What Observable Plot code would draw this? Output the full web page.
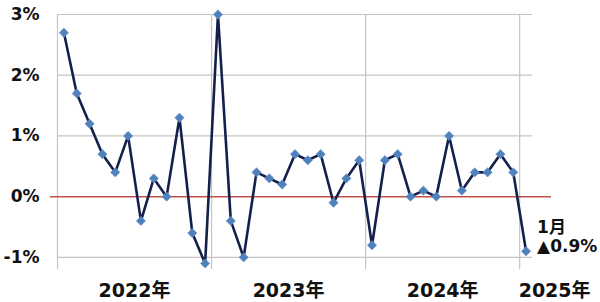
<!DOCTYPE html>
<html>
<head>
<meta charset="utf-8">
<script src="https://cdn.jsdelivr.net/npm/d3@7"></script>
<script src="https://cdn.jsdelivr.net/npm/@observablehq/plot@0.6"></script>
<style>
  html, body { margin: 0; padding: 0; background: #fff; }
  svg { display: block; }
</style>
</head>
<body>
<div id="chart"></div>
<script>
// Monthly change (%), Jan 2022 – Jan 2025
const years = [2022,2022,2022,2022,2022,2022,2022,2022,2022,2022,2022,2022,
               2023,2023,2023,2023,2023,2023,2023,2023,2023,2023,2023,2023,
               2024,2024,2024,2024,2024,2024,2024,2024,2024,2024,2024,2024,
               2025];
const months = [1,2,3,4,5,6,7,8,9,10,11,12,
                1,2,3,4,5,6,7,8,9,10,11,12,
                1,2,3,4,5,6,7,8,9,10,11,12,
                1];
const values = [2.7, 1.7, 1.2, 0.7, 0.4, 1.0, -0.4, 0.3, 0.0, 1.3, -0.6, -1.1,
                3.0, -0.4, -1.0, 0.4, 0.3, 0.2, 0.7, 0.6, 0.7, -0.1, 0.3, 0.6,
                -0.8, 0.6, 0.7, 0.0, 0.1, 0.0, 1.0, 0.1, 0.4, 0.4, 0.7, 0.4,
                -0.9];
const yTicks = [-1, 0, 1, 2, 3];
const yearLabelSuffix = "年";
const monthSuffix = "月";

const data = values.map((v, i) => ({i: i + 1, year: years[i], month: months[i], v}));
const n = data.length;

// year groups
const yearList = Array.from(new Set(years));
const yearGroups = yearList.map(y => {
  const pts = data.filter(d => d.year === y);
  const full = pts.length === 12;
  const first = pts[0].i, last = pts[pts.length - 1].i;
  return {
    label: y + yearLabelSuffix,
    x: full ? (first + last) / 2 : first - 0.5,
    full
  };
});
// boundaries between years (where a January starts, after the first)
const boundaries = [0.5].concat(data.filter(d => d.month === 1 && d.i > 1).map(d => d.i - 0.5));

const last = data[n - 1];
const annot = [{
  i: last.i, v: last.v,
  text: last.month + monthSuffix + "\n" + (last.v < 0 ? "▲" : "") + Math.abs(last.v).toFixed(1) + "%"
}];

const font = "'DejaVu Sans', 'Noto Sans CJK JP', sans-serif";
const yMin = -1.2;

const chart = Plot.plot({
  width: 600,
  height: 302,
  marginTop: 14,
  marginBottom: 33,
  marginLeft: 57,
  marginRight: 68,
  style: {fontFamily: font, background: "#fff", overflow: "visible"},
  x: {type: "linear", domain: [0.5, n + 0.5], axis: null},
  y: {domain: [yMin, 3], axis: null},
  marks: [
    // horizontal gridlines (except zero)
    Plot.ruleY(yTicks.filter(t => t !== 0), {stroke: "#c4c4c4", strokeWidth: 1.2}),
    // vertical lines at year boundaries (including left axis)
    Plot.ruleX(boundaries, {stroke: "#c4c4c4", strokeWidth: 1.2}),
    // zero line in red, extending past the frame
    Plot.ruleY([0], {stroke: "#c0504d", strokeWidth: 1.5, insetLeft: -7, insetRight: -19}),
    // y tick labels
    Plot.text(yTicks, {
      x: 0.5, y: d => d, text: d => d + "%",
      textAnchor: "end", dx: -18, fontSize: 17, fontWeight: "bold", fill: "#111"
    }),
    // year labels (full years centred, partial year left-aligned at its start)
    Plot.text(yearGroups.filter(d => d.full), {
      x: "x", y: () => yMin, text: "label",
      textAnchor: "middle", dy: 21, fontSize: 19, fontWeight: "bold", fill: "#111"
    }),
    Plot.text(yearGroups.filter(d => !d.full), {
      x: "x", y: () => yMin, text: "label",
      textAnchor: "start", dx: -1, dy: 21, fontSize: 19, fontWeight: "bold", fill: "#111"
    }),
    // series line
    Plot.line(data, {x: "i", y: "v", stroke: "#14204c", strokeWidth: 2.6, strokeLinejoin: "round"}),
    // markers
    Plot.dot(data, {x: "i", y: "v", symbol: "diamond2", r: 4.2, fill: "#4f81bd", stroke: "#6f95c8", strokeWidth: 0.6}),
    // annotation
    Plot.text(annot, {
      x: "i", y: "v", text: "text", textAnchor: "start", lineAnchor: "middle",
      dx: 11, dy: -14.5, lineHeight: 1.12, fontSize: 17, fontWeight: "bold", fill: "#111"
    })
  ]
});
document.getElementById("chart").appendChild(chart);
</script>
</body>
</html>
